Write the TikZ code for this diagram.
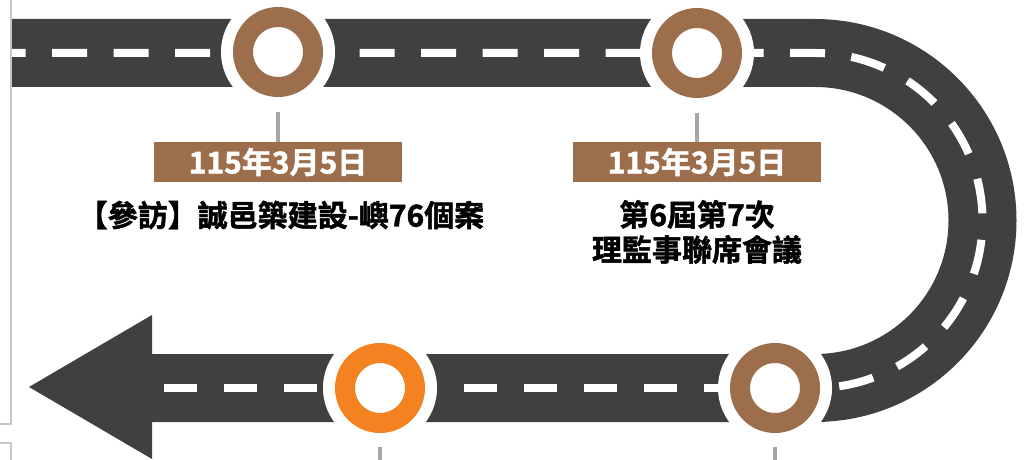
\documentclass[tikz,border=0pt]{standalone}
\usepackage{fontspec}
\newfontfamily\cjk{Noto Sans CJK TC Bold}[FakeBold=1.6]
\usetikzlibrary{positioning}

\definecolor{roadgray}{HTML}{404040}
\definecolor{stopbrown}{HTML}{9C6E4B}
\definecolor{stoporange}{HTML}{F58220}
\definecolor{tickgray}{HTML}{A6A6A6}

\tikzset{
  road/.style={draw=roadgray,line width=68pt},
  lane/.style={draw=white,line width=8pt},
  ring/.style={circle,minimum size=70pt,inner sep=0pt,line width=20pt,draw=#1,fill=white,
    preaction={draw=white,line width=44pt}},
  datebox/.style={rectangle,fill=stopbrown,text=white,minimum width=248pt,minimum height=40pt,
    inner sep=0pt,font=\cjk\fontsize{30}{30}\selectfont},
  eventtext/.style={align=center,inner sep=0pt,font=\cjk\fontsize{30}{35}\selectfont},
  tick/.style={draw=tickgray,line width=4pt},
  frame/.style={draw=black!22,line width=1.6pt}
}

\begin{document}
\begin{tikzpicture}[x=1pt,y=-1pt]
      \useasboundingbox (0,0) rectangle (1026,460);
      % window edge on the left
      \draw[frame] (11,0) -- (11,424) -- (0,424);
      \draw[frame] (0,443) -- (11,443) -- (11,460);

      % the road
      \draw[road] (12,53) -- (815,53) arc[start angle=90,end angle=-90,radius=167.5pt] -- (152,388);
      \fill[roadgray] (152,315) -- (29,387) -- (152,459) -- cycle;
      % lane marks
      \draw[lane,dash pattern=on 35pt off 26.5pt,dash phase=21.5pt] (12,53) -- (815,53) arc[start angle=90,end angle=-90,radius=167.5pt];
      \draw[lane,dash pattern=on 33.5pt off 26.5pt,dash phase=42pt] (815,388) -- (152,388);

      % stops
      \node[ring=stopbrown] (s1) at (278,52) {};
      \node[ring=stopbrown] (s2) at (697,53) {};
      \node[ring=stoporange] (s3) at (380,388) {};
      \node[ring=stopbrown] (s4) at (775,388) {};

      % dates and events
      \node[datebox] (d1) at (278,162) {115年3月5日};
      \node[datebox] (d2) at (697,162) {115年3月5日};
      \node[eventtext] (e1) at (281,215) {【參訪】誠邑築建設-嶼76個案};
      \node[eventtext] (e2) at (697,232) {第6屆第7次\\理監事聯席會議};

      % ticks
      \coordinate (b3) at (380,462);
      \coordinate (b4) at (775,462);
      \draw[tick,shorten <=15pt] (s1.south) -- (d1.north);
      \draw[tick,shorten <=15pt] (s2.south) -- (d2.north);
      \draw[tick,shorten <=14pt] (s3.south) -- (b3);
      \draw[tick,shorten <=14pt] (s4.south) -- (b4);
\end{tikzpicture}
\end{document}
